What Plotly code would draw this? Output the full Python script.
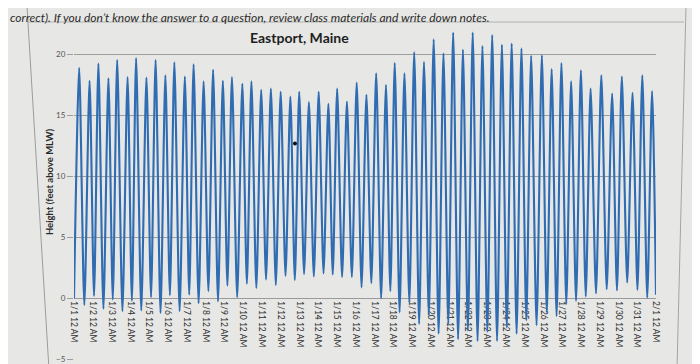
import datetime as dt
import plotly.graph_objects as go

# ---------------- data ----------------
# hours after 1/1 12 AM of each high tide, and its height (ft above MLW)
high_hours = [6.6, 19.9, 31.2, 44.0, 55.2, 68.5, 79.4, 92.6, 104.3, 116.8,
              128.3, 141.7, 152.9, 165.7, 177.8, 190.3, 201.9, 215.2, 226.8, 239.3,
              251.7, 264.2, 276.6, 287.9, 300.3, 312.8, 325.2, 336.4, 348.9, 361.4,
              373.8, 386.3, 398.8, 410.0, 422.4, 434.9, 447.4, 459.8, 472.3, 484.7,
              497.2, 509.7, 522.1, 534.6, 547.0, 559.5, 572.0, 584.4, 598.1, 610.6,
              623.1, 635.5, 648.0, 660.4, 674.1, 687.9, 700.3, 714.0, 726.5, 739.0]
high_height = [18.9, 17.85, 19.25, 18.05, 19.55, 18.15, 19.7, 18.1, 19.55, 18.3,
               19.35, 18.2, 19.2, 17.8, 18.75, 17.85, 18.15, 17.6, 17.8, 17.1,
               17.2, 16.95, 16.55, 16.95, 16.1, 16.95, 15.95, 17.2, 16.15, 17.7,
               16.7, 18.45, 17.5, 19.3, 18.45, 20.2, 19.4, 21.25, 20.1, 21.8,
               20.4, 21.8, 20.7, 21.6, 20.8, 20.9, 20.5, 19.9, 19.95, 18.8,
               19.3, 17.8, 18.7, 17.2, 18.3, 16.8, 18.2, 16.85, 18.3, 17.0]

# hours after 1/1 12 AM of each low tide, and its height
low_hours = [0.0, 13.2, 25.6, 37.6, 49.6, 61.9, 74.0, 86.0, 98.5, 110.6,
             122.6, 135.0, 147.3, 159.3, 171.8, 184.1, 196.1, 208.6, 221.0, 233.1,
             245.5, 258.0, 270.4, 282.3, 294.1, 306.6, 319.0, 330.8, 342.7, 355.2,
             367.6, 380.1, 392.6, 404.4, 416.2, 428.7, 441.2, 453.6, 466.1, 478.5,
             491.0, 503.5, 515.9, 528.4, 540.8, 553.3, 565.8, 578.2, 591.3, 604.4,
             616.9, 629.3, 641.8, 654.2, 667.3, 681.0, 694.1, 707.2, 720.3, 732.8,
             744.0]
low_height = [0.0, -0.55, 0.2, -0.85, -0.1, -1.05, -0.2, -1.0, 0.1, -1.2,
              0.25, -1.05, 0.3, -0.4, 0.6, -0.25, 1.05, 0.1, 1.2, 0.85,
              1.55, 1.1, 1.85, 1.5, 2.0, 1.8, 2.05, 1.95, 1.75, 1.75,
              0.9, 1.25, 0.0, 0.6, -1.15, -0.35, -2.1, -1.4, -2.9, -2.1,
              -3.35, -2.65, -3.5, -2.75, -3.5, -2.4, -2.9, -1.8, -2.2, -1.15,
              -1.45, -0.45, -0.2, 0.15, 0.4, 0.75, 0.65, 1.3, 0.7, 0.05,
              0.3]

# a stray dark speck visible on the screen photo
speck_hours = [282.5]
speck_height = [12.7]

y_ticks = [-5, 0, 5, 10, 15, 20]
start = dt.datetime(2020, 1, 1, 0, 0)
end = dt.datetime(2020, 2, 1, 0, 0)

title_text = "Eastport, Maine"
y_title = "Height (feet above MLW)"
top_text = ("correct). If you don\u2019t know the answer to a question, "
            "review class materials and write down notes.")

# ---------------- build ----------------
events = sorted(list(zip(high_hours, high_height)) + list(zip(low_hours, low_height)))
xs = [start + dt.timedelta(hours=h) for h, _ in events]
ys = [v for _, v in events]

W, H = 700, 364
ml, mr, mt, mb = 66, 52, 16, 8
pw, ph = W - ml - mr, H - mt - mb
ylo, yhi = -5.05, 22.5
FONT = "Lato"


def px(x):
    return (x - ml) / pw


def py(y):
    return (H - mb - y) / ph


fig = go.Figure()
fig.add_trace(go.Scatter(
    x=xs, y=ys, mode="lines",
    line=dict(color="#2f6cb2", width=2.1, shape="spline", smoothing=0.7),
    hoverinfo="skip", showlegend=False))
fig.add_trace(go.Scatter(
    x=[start + dt.timedelta(hours=h) for h in speck_hours], y=speck_height,
    mode="markers", marker=dict(color="#111111", size=4),
    hoverinfo="skip", showlegend=False))

bg = "#e7e7e5"
zero_pos = (0 - ylo) / (yhi - ylo)

fig.update_layout(
    width=W, height=H,
    margin=dict(l=ml, r=mr, t=mt, b=mb, pad=0),
    paper_bgcolor=bg, plot_bgcolor=bg,
    showlegend=False,
    xaxis=dict(
        type="date", range=[start, end],
        tick0=start, dtick=86400000, tickformat="%-m/%-d %-I %p",
        tickangle=90, tickfont=dict(family=FONT, size=8.5, color="#2e2e2e"),
        showgrid=False, zeroline=False,
        showline=True, linecolor="#9a9a9a", linewidth=1,
        ticks="", anchor="free", position=zero_pos,
        layer="below traces",
    ),
    yaxis=dict(
        range=[ylo, yhi], tickvals=y_ticks,
        showgrid=True, gridcolor="#9d9d9b", gridwidth=1,
        zeroline=False, showline=False,
        ticks="outside", ticklen=6, tickcolor="#9d9d9b",
        tickfont=dict(family=FONT, size=8, color="#555555"),
    ),
    shapes=[
        # chart frame as seen on the photographed screen
        dict(type="path", xref="paper", yref="paper",
             path=f"M {px(19)},{py(-2)} L {px(41)},{py(366)}",
             line=dict(color="#9c9c9a", width=1)),
        dict(type="line", xref="paper", yref="paper",
             x0=px(19), x1=px(676), y0=py(14), y1=py(14),
             line=dict(color="#b0b0ae", width=1)),
        dict(type="path", xref="paper", yref="paper",
             path=f"M {px(678)},{py(-2)} L {px(669)},{py(366)}",
             line=dict(color="#a4a4a2", width=1)),
    ],
    annotations=[
        dict(text=f"<b>{title_text}</b>", xref="paper", yref="paper",
             x=px(291.5), y=py(30), xanchor="center", yanchor="middle",
             showarrow=False,
             font=dict(family=FONT, size=14, color="#1e1e1e")),
        dict(text=f"<b>{y_title}</b>", xref="paper", yref="paper",
             x=px(41), y=py(176), xanchor="center", yanchor="middle",
             textangle=-90, showarrow=False,
             font=dict(family=FONT, size=9.5, color="#2a2a2a")),
        dict(text=f"<i>{top_text}</i>", xref="paper", yref="paper",
             x=px(0), y=py(0), xanchor="left", yanchor="top",
             showarrow=False,
             font=dict(family=FONT, size=12, color="#2b2b2b")),
    ],
)

fig.write_html("out.html")
